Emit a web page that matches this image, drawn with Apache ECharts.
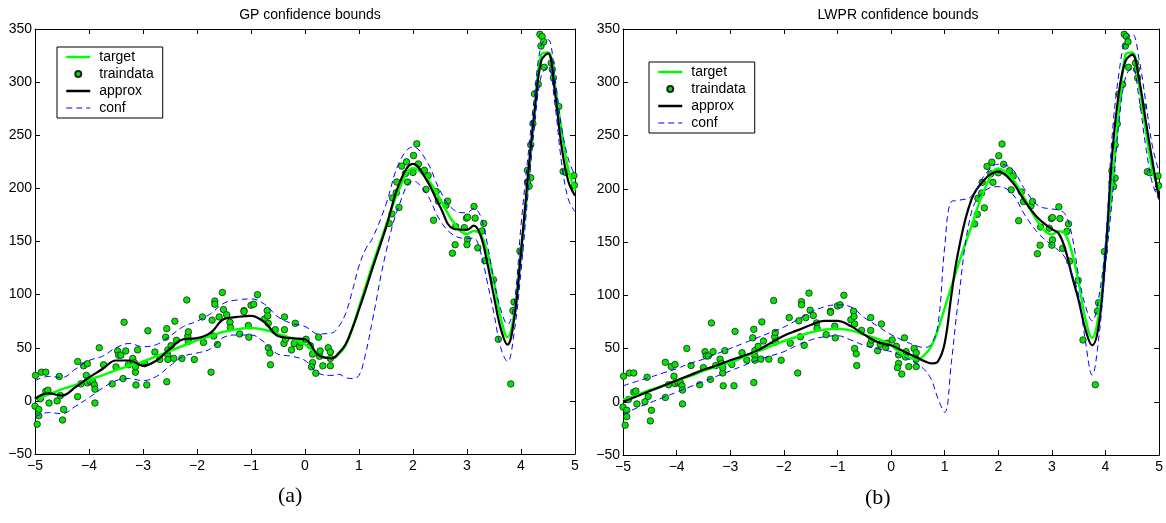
<!DOCTYPE html>
<html>
<head>
<meta charset="utf-8">
<script src="https://cdn.jsdelivr.net/npm/echarts@6/dist/echarts.min.js"></script>
<style>
html,body{margin:0;padding:0;background:#fff;}
#chartDiv{width:1166px;height:523px;}
</style>
</head>
<body>
<div id="chartDiv"></div>
<script>
// training samples (same set in both panels)
var trainX = [-4.99,-5.0,-4.93,-4.93,-4.96,-4.9,-4.88,-4.8,-4.8,-4.76,-4.74,-4.59,-4.55,-4.53,-4.47,-4.49,
  -4.21,-4.21,-4.15,-4.1,-4.03,-4.05,-4.03,-3.97,-3.93,-3.9,-3.89,-3.89,-3.81,-3.73,-3.57,-3.5,-3.47,-3.45,
  -3.41,-3.37,-3.35,-3.32,-3.27,-3.19,-3.16,-3.14,-3.14,-3.13,-3.1,-2.97,-2.93,-2.91,-2.78,-2.69,-2.58,-2.56,
  -2.56,-2.54,-2.54,-2.54,-2.48,-2.43,-2.41,-2.38,-2.28,-2.19,-2.17,-2.16,-2.16,-2.05,-1.9,-1.88,-1.74,-1.72,
  -1.69,-1.67,-1.67,-1.62,-1.59,-1.53,-1.51,-1.45,-1.39,-1.38,-1.21,-1.13,-1.13,-1.05,-1.04,-1.0,-0.95,-0.88,
  -0.75,-0.7,-0.69,-0.68,-0.68,-0.65,-0.64,-0.55,
  -0.38,-0.38,-0.39,-0.36,-0.25,-0.2,-0.18,-0.1,-0.08,0.02,0.1,0.14,0.14,0.12,0.2,0.25,0.27,0.28,0.33,0.43,0.47,0.47,0.47,
  2.07,2.01,1.79,1.88,2.1,1.86,2.0,2.21,2.28,1.7,1.9,2.24,1.69,1.62,1.74,1.61,1.56,2.38,2.43,2.47,
  2.61,2.64,2.79,2.78,2.73,2.95,2.99,3.01,3.01,3.0,3.13,3.15,3.2,3.31,3.28,3.33,3.49,
  3.58,3.81,3.85,3.87,3.98,4.12,4.18,4.15,4.12,4.22,4.18,4.25,4.32,4.35,4.39,4.37,4.42,4.43,4.56,4.58,4.6,
  4.7,4.78,4.83,4.98,4.99];
var trainY = [24,-5,-8,-14,-22,2,27,27,9,10,-2,0,23,5,-8,-18,
  37,4,16,33,35,24,17,18,18,15,11,-2,50,34,16,32,47,43,
  43,21,74,47,34,40,36,27,32,15,48,35,15,66,46,39,60,18,
  68,43,39,48,52,40,75,57,40,95,61,65,56,39,79,55,27,76,
  61,94,91,53,79,102,86,81,74,69,63,85,84,71,60,90,91,100,
  77,85,80,73,50,45,34,67,
  79,67,54,58,48,54,73,51,55,58,52,44,36,32,26,60,42,47,33,50,46,40,33,
  242,231,221,225,223,214,215,217,212,206,206,199,196,191,182,176,167,170,197,188,
  184,188,164,147,139,163,172,173,152,147,183,172,144,167,160,132,114,
  58,16,85,93,141,206,210,202,217,261,241,289,298,345,343,334,338,314,318,312,304,
  277,216,215,212,203];

var curveX = [-5,-4.75,-4.5,-4.25,-4,-3.75,-3.5,-3.25,-3,-2.75,-2.5,-2.25,-2,-1.75,-1.5,-1.25,-1,-0.75,-0.5,-0.25,
  0,0.25,0.5,0.625,0.75,0.875,1,1.125,1.25,1.5,1.75,2,2.25,2.5,2.75,3,3.125,3.25,3.375,3.5,3.625,3.75,3.875,
  4,4.125,4.25,4.375,4.5,4.625,4.75,4.875,5];
var target = [2,6,11,15,20,24,29,33,37,42,47,52,57,61,65,67.5,68.5,67,63,59,
  53,43,40,44,52,68,88,108,128,165,200,219,210,190,168,157,160,157,140,112,78,60,82,
  140,202,272,326,328,298,255,218,198];
var gpApprox = [2,7,5,13,22,30,38,38,33,38,49,58,59,64,77,79,80,74,61,59,
  58,43,40,45,53,68,86,105,125,163,205,223,208,183,162,161,165,156,130,98,68,53,78,
  140,210,272,320,327,292,240,207,193];
var gpUpper = [19,23,22,30,38,42,50,54,51,53,61,70,75,82,92,95,96,91,79,73,
  70,63,64,70,82,103,127,143,153,185,225,239,226,198,180,177,181,174,148,113,86,72,92,
  165,228,287,335,340,305,258,228,212];
var gpLower = [-15,-11,-12,-5,3,12,19,21,19,23,33,42,45,49,60,62,62,55,44,42,
  38,26,24,25,22,21,24,45,76,140,185,207,195,170,156,153,153,140,112,82,50,37,65,
  122,192,258,306,314,280,225,190,178];
var lwprApprox = [0,5,10,15,20,25,30,34,39,43,48,55,62,67,72,76,76,71,63,56,
  53,47,41,38,36,38,55,100,140,190,209,216,207,188,172,162,158,143,118,95,68,53,72,
  138,232,290,320,326,303,264,226,190];
var lwprUpper = [15,19,23,27,31,36,40,45,50,55,60,65,70,77,84,89,91,89,79,71,
  63,57,52,51,54,72,145,188,189,193,213,223,219,199,184,181,180,176,156,118,90,76,98,
  150,250,308,340,345,322,282,240,216];
var lwprLower = [-12,-6,-1,4,9,14,19,24,29,34,39,43,47,53,58,61,62,58,53,50,
  47,42,35,30,21,3,-10,37,93,178,198,202,196,175,158,147,142,135,120,100,57,25,60,
  128,190,262,305,314,285,240,205,190];

function pairs(xs, ys) {
  var out = [];
  for (var i = 0; i < xs.length; i++) {
    out.push([xs[i], ys[i]]);
  }
  return out;
}

function minusSign(v) {
  return String(v).replace('-', '\u2212');
}

var fontName = '"Liberation Sans", Arial, sans-serif';

function makeXAxis(grid, pos) {
  return {
    type: 'value', gridIndex: grid, position: pos, min: -5, max: 5, interval: 1,
    axisLine: {show: true, onZero: false, lineStyle: {color: '#000', width: 1}},
    axisTick: {show: true, inside: true, length: 5, lineStyle: {color: '#000'}},
    axisLabel: {show: pos === 'bottom', margin: 5, color: '#000', fontSize: 14, fontFamily: fontName, formatter: minusSign},
    splitLine: {show: false}
  };
}

function makeYAxis(grid, pos) {
  return {
    type: 'value', gridIndex: grid, position: pos, min: -50, max: 350, interval: 50,
    axisLine: {show: true, onZero: false, lineStyle: {color: '#000', width: 1}},
    axisTick: {show: true, inside: true, length: 5, lineStyle: {color: '#000'}},
    axisLabel: {show: pos === 'left', margin: 3, color: '#000', fontSize: 14, fontFamily: fontName, formatter: minusSign},
    splitLine: {show: false}
  };
}

function lineSeries(name, axis, ys, color, width, dashed) {
  return {
    name: name, type: 'line', xAxisIndex: axis, yAxisIndex: axis,
    data: pairs(curveX, ys), symbol: 'none', smooth: 0.4,
    lineStyle: {color: color, width: width, type: dashed ? [6, 4] : 'solid'},
    itemStyle: {color: color}
  };
}

function dotSeries(axis) {
  return {
    name: 'traindata', type: 'scatter', xAxisIndex: axis, yAxisIndex: axis,
    data: pairs(trainX, trainY), symbol: 'circle', symbolSize: 6.5,
    itemStyle: {color: '#00e600', borderColor: '#222', borderWidth: 0.8, opacity: 1}
  };
}

// line entries: hide the dot ECharts puts in the middle of a line icon
var noDot = {color: 'rgba(0,0,0,0)', borderColor: 'rgba(0,0,0,0)', borderWidth: 0};

function makeLegend(left, top) {
  return {
    orient: 'vertical', left: left, top: top,
    padding: [3, 9, 3, 8], itemWidth: 24, itemHeight: 6, itemGap: 3,
    borderColor: '#000', borderWidth: 1, backgroundColor: '#fff',
    selectedMode: false,
    textStyle: {color: '#000', fontSize: 14, fontFamily: fontName, padding: [0, 0, 0, 4]},
    data: [
      {name: 'target', lineStyle: {width: 2.5}, itemStyle: noDot},
      {name: 'traindata'},
      {name: 'approx', lineStyle: {width: 2.5}, itemStyle: noDot},
      {name: 'conf', lineStyle: {width: 1}, itemStyle: noDot}
    ]
  };
}

var chart = echarts.init(document.getElementById('chartDiv'), null, {renderer: 'canvas'});

var option = {
  animation: false,
  backgroundColor: '#fff',
  title: [
    {text: 'GP confidence bounds', left: 305, top: 3, textAlign: 'center',
     textStyle: {fontSize: 14, fontWeight: 'normal', color: '#000', fontFamily: fontName}},
    {text: 'LWPR confidence bounds', left: 893, top: 3, textAlign: 'center',
     textStyle: {fontSize: 14, fontWeight: 'normal', color: '#000', fontFamily: fontName}}
  ],
  legend: [makeLegend(57, 47), makeLegend(649, 62)],
  grid: [
    {left: 35, top: 29, width: 540, height: 425},
    {left: 623, top: 29, width: 540, height: 426}
  ],
  xAxis: [makeXAxis(0, 'bottom'), makeXAxis(0, 'top'), makeXAxis(1, 'bottom'), makeXAxis(1, 'top')],
  yAxis: [makeYAxis(0, 'left'), makeYAxis(0, 'right'), makeYAxis(1, 'left'), makeYAxis(1, 'right')],
  graphic: [
    {type: 'text', left: 278, top: 485, style: {text: '(a)', font: '22px "Liberation Serif", "DejaVu Serif", serif', fill: '#000'}},
    {type: 'text', left: 865, top: 487, style: {text: '(b)', font: '22px "Liberation Serif", "DejaVu Serif", serif', fill: '#000'}}
  ],
  series: [
    lineSeries('target', 0, target, '#00ff00', 2.5, false),
    dotSeries(0),
    lineSeries('approx', 0, gpApprox, '#000000', 2.2, false),
    lineSeries('conf', 0, gpUpper, '#0000ff', 1, true),
    lineSeries('conf', 0, gpLower, '#0000ff', 1, true),
    lineSeries('target', 2, target, '#00ff00', 2.5, false),
    dotSeries(2),
    lineSeries('approx', 2, lwprApprox, '#000000', 2.2, false),
    lineSeries('conf', 2, lwprUpper, '#0000ff', 1, true),
    lineSeries('conf', 2, lwprLower, '#0000ff', 1, true)
  ]
};

chart.setOption(option);
</script>
</body>
</html>
